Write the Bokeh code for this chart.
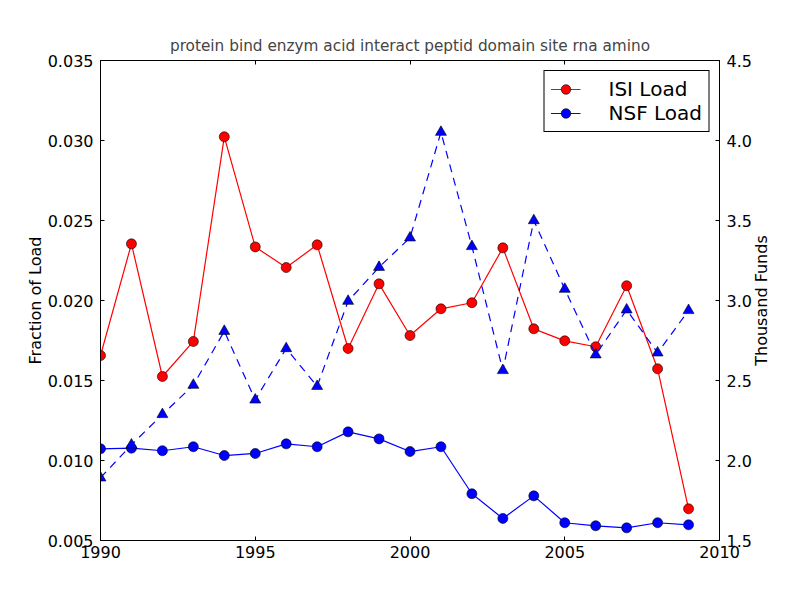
from bokeh.plotting import figure
from bokeh.layouts import row
from bokeh.models import (Range1d, LinearAxis, FixedTicker, PrintfTickFormatter,
                          Legend, LegendItem, ColumnDataSource, CustomJSTickFormatter, Title)
from bokeh.embed import file_html
from bokeh.resources import INLINE

years = list(range(1990, 2010))
isi_load = [0.01656, 0.02354, 0.01525, 0.01744, 0.03023, 0.02335, 0.02206, 0.02348,
            0.01700, 0.02104, 0.01781, 0.01948, 0.01986, 0.02329, 0.01823, 0.01748,
            0.01711, 0.02092, 0.01573, 0.00698]
nsf_load = [0.01073, 0.01077, 0.01061, 0.01086, 0.01031, 0.01044, 0.01104, 0.01086,
            0.01179, 0.01135, 0.01056, 0.01086, 0.00792, 0.00638, 0.00779, 0.00611,
            0.00592, 0.00579, 0.00611, 0.00598]
nsf_funds = [1.892, 2.098, 2.288, 2.471, 2.808, 2.379, 2.700, 2.464, 2.996, 3.208,
             3.392, 4.052, 3.338, 2.563, 3.500, 3.071, 2.661, 2.942, 2.673, 2.938]

x_ticks = [1990, 1995, 2000, 2005, 2010]
left_ticks = [0.005, 0.010, 0.015, 0.020, 0.025, 0.030, 0.035]
right_ticks = [1.5, 2.0, 2.5, 3.0, 3.5, 4.0, 4.5]

title_text = "protein bind enzym acid interact peptid domain site rna amino"
left_label = "Fraction of Load"
right_label = "Thousand Funds"

src = ColumnDataSource(dict(year=years, isi=isi_load, nsf=nsf_load, funds=nsf_funds))

FONT = "DejaVu Sans"

p = figure(width=754, height=584, output_backend="svg", toolbar_location=None,
           x_range=Range1d(1990, 2010), y_range=Range1d(0.005, 0.035),
           min_border_left=100, min_border_right=34, min_border_top=60, min_border_bottom=44,
           title=title_text)
p.extra_y_ranges = {"funds": Range1d(1.5, 4.5)}

p.title.align = "center"
p.title.text_font = FONT
p.title.text_font_size = "15.3px"
p.title.text_font_style = "normal"
p.title.standoff = 12

p.xgrid.visible = False
p.ygrid.visible = False
p.outline_line_color = "black"
p.outline_line_width = 1
p.outline_line_alpha = 1
p.background_fill_color = "white"
p.border_fill_color = "white"

def style_axis(ax, standoff):
    ax.major_tick_in = 4
    ax.major_tick_out = 0
    ax.minor_tick_in = 0
    ax.minor_tick_out = 0
    ax.major_tick_line_color = "black"
    ax.axis_line_color = "black"
    ax.major_label_text_font = FONT
    ax.major_label_text_font_size = "16px"
    ax.major_label_text_color = "black"
    ax.major_label_standoff = standoff
    ax.axis_label_text_font = FONT
    ax.axis_label_text_font_size = "16px"
    ax.axis_label_text_font_style = "normal"
    ax.axis_label_text_color = "black"
    ax.axis_label_standoff = 0

xa = p.xaxis[0]
xa.ticker = FixedTicker(ticks=x_ticks)
xa.formatter = PrintfTickFormatter(format="%d")
style_axis(xa, 5)

ya = p.yaxis[0]
ya.ticker = FixedTicker(ticks=left_ticks)
ya.formatter = PrintfTickFormatter(format="%.3f")
ya.axis_label = left_label
style_axis(ya, 7)

ra = LinearAxis(y_range_name="funds")
ra.ticker = FixedTicker(ticks=right_ticks)
ra.formatter = PrintfTickFormatter(format="%.1f")
style_axis(ra, 7)
p.add_layout(ra, "right")

ta = LinearAxis()
ta.ticker = FixedTicker(ticks=x_ticks)
ta.formatter = CustomJSTickFormatter(code="return ''")
style_axis(ta, 0)
ta.major_label_text_font_size = "0px"
p.add_layout(ta, "above")

# ISI load
isi_line = p.line("year", "isi", source=src, line_color="#ff0000", line_width=1.2)
isi_pts = p.scatter("year", "isi", source=src, marker="circle", size=10,
                    fill_color="#ff0000", line_color="black", line_width=0.6)
# NSF load
nsf_line = p.line("year", "nsf", source=src, line_color="#0000ff", line_width=1.2)
nsf_pts = p.scatter("year", "nsf", source=src, marker="circle", size=10,
                    fill_color="#0000ff", line_color="black", line_width=0.6)
# NSF funds (right axis)
p.line("year", "funds", source=src, y_range_name="funds", line_color="#0000ff",
       line_width=1.2, line_dash="8 6")
p.scatter("year", "funds", source=src, y_range_name="funds", marker="triangle", size=11,
          fill_color="#0000ff", line_color="black", line_width=0.6)

legend = Legend(items=[LegendItem(label="ISI Load", renderers=[isi_line, isi_pts]),
                       LegendItem(label="NSF Load", renderers=[nsf_line, nsf_pts])],
                location="top_right")
legend.label_text_font = FONT
legend.label_text_font_size = "20px"
legend.label_text_color = "black"
legend.border_line_color = "black"
legend.border_line_width = 1
legend.border_line_alpha = 1
legend.background_fill_color = "white"
legend.background_fill_alpha = 1
legend.padding = 6
legend.spacing = 0
legend.margin = 10
legend.glyph_width = 30
legend.glyph_height = 24
legend.label_height = 24
legend.label_standoff = 28
p.add_layout(legend, "center")

# narrow transparent companion panel carrying the right-hand axis title (bottom-to-top)
p2 = figure(width=34, height=584, output_backend="svg", toolbar_location=None,
            x_axis_location=None, y_axis_location=None,
            min_border_left=0, min_border_right=0, min_border_top=60, min_border_bottom=44)
p2.margin = (0, 0, 0, -5)
p2.xgrid.visible = False
p2.ygrid.visible = False
p2.outline_line_color = None
p2.background_fill_color = None
p2.border_fill_color = None
p2.add_layout(Title(text=right_label, align="center", text_font=FONT,
                    text_font_size="16px", text_font_style="normal",
                    text_color="black", standoff=0), "left")

layout = row(p, p2)
open("out.html", "w").write(file_html(layout, INLINE))
